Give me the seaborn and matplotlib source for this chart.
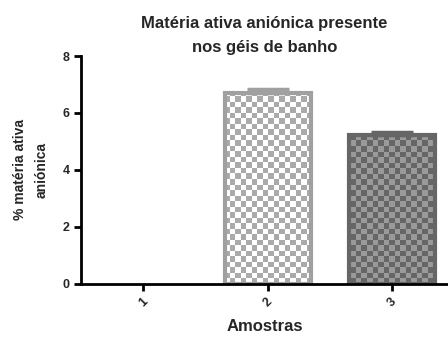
import numpy as np
import matplotlib
matplotlib.use("Agg")
import matplotlib.pyplot as plt
import seaborn as sns

categories = ["1", "2", "3"]
values = [0.0, 6.72, 5.22]
errors = [0.0, 0.12, 0.11]
edge_colors = ["#999999", "#a0a0a0", "#666666"]
checker_colors = [("#ffffff", "#aaaaaa"), ("#ffffff", "#aaaaaa"), ("#9a9a9a", "#666666")]

sns.set_theme(style="ticks")
plt.rcParams["font.family"] = ["Liberation Sans", "DejaVu Sans"]
plt.rcParams["font.weight"] = "bold"

fig = plt.figure(figsize=(4.48, 3.38), dpi=100)
ax = fig.add_axes([0.181, 0.161, 0.819, 0.673])

sns.barplot(x=categories, y=values, ax=ax, width=0.69, color="white",
            linewidth=3, errorbar=None, zorder=2)

ax.set_xlim(-0.5, 2.45)
ax.set_ylim(0, 8)
fig.canvas.draw()

# checkerboard textures clipped to bars
cell = 5.5  # px
bbox = ax.get_window_extent()
nx = int(bbox.width / cell) + 1
ny = int(bbox.height / cell) + 1
yy, xx = np.mgrid[0:ny, 0:nx]
checker = (xx + yy) % 2
x0, x1 = ax.get_xlim()
y0, y1 = ax.get_ylim()
ext_x1 = x0 + (x1 - x0) * nx * cell / bbox.width
ext_y1 = y0 + (y1 - y0) * ny * cell / bbox.height
for i, patch in enumerate(ax.patches):
    patch.set_edgecolor(edge_colors[i])
    patch.set_facecolor("none")
    if values[i] <= 0:
        patch.set_visible(False)
        continue
    c_a, c_b = checker_colors[i]
    cmap = matplotlib.colors.ListedColormap([c_a, c_b])
    im = ax.imshow(checker, cmap=cmap, extent=[x0, ext_x1, y0, ext_y1], origin="lower",
                   interpolation="nearest", aspect="auto", zorder=1)
    im.set_clip_path(patch)
    ax.set_xlim(x0, x1)
    ax.set_ylim(y0, y1)

for i in range(len(categories)):
    if errors[i] > 0:
        ax.errorbar(i, values[i], yerr=[[0], [errors[i]]], fmt="none",
                    ecolor=edge_colors[i], elinewidth=2, capsize=15, capthick=2.5, zorder=3)

sns.despine(ax=ax)
ax.spines["left"].set_linewidth(2)
ax.spines["bottom"].set_linewidth(2)
ax.spines["left"].set_color("black")
ax.spines["bottom"].set_color("black")
ax.set_yticks([0, 2, 4, 6, 8])
ax.tick_params(axis="both", width=2, length=5, color="black", labelsize=9, pad=3)
for lab in ax.get_yticklabels():
    lab.set_fontweight("bold")
for lab in ax.get_xticklabels():
    lab.set_fontweight("bold")
    lab.set_rotation(45)
    lab.set_ha("center")
ax.tick_params(axis="x", pad=4)

ax.set_xlabel("Amostras", fontsize=12, fontweight="bold", labelpad=7)
ax.set_ylabel("% matéria ativa\naniónica", fontsize=10, fontweight="bold", labelpad=10,
              linespacing=1.7)
ax.set_title("Matéria ativa aniónica presente\nnos géis de banho", fontsize=12,
             fontweight="bold", pad=3, x=0.5, linespacing=1.75)

fig.savefig("out.png", dpi=100)
